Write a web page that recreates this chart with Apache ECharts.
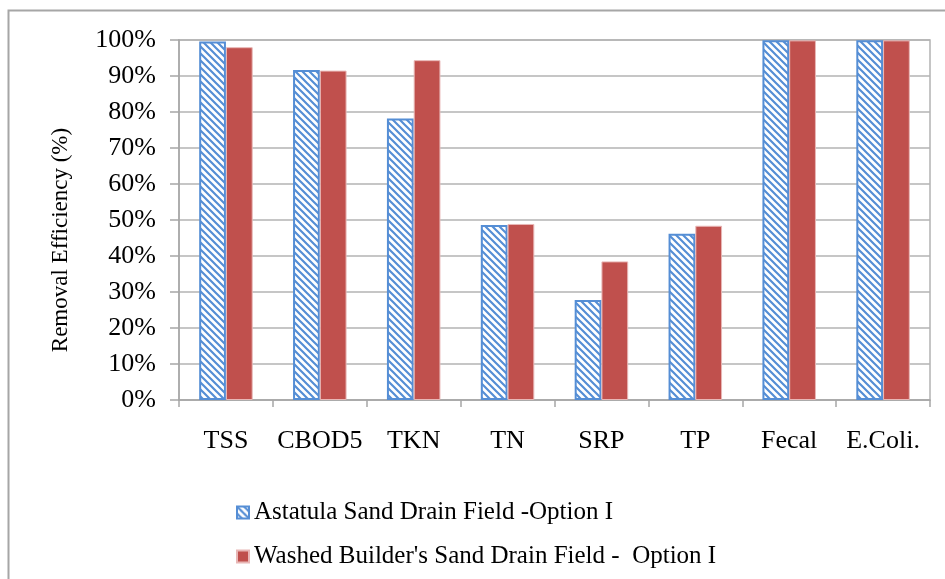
<!DOCTYPE html>
<html>
<head>
<meta charset="utf-8">
<script src="https://cdn.jsdelivr.net/npm/echarts@6/dist/echarts.min.js"></script>
<style>
  html, body { margin: 0; padding: 0; background: #fff; }
  #chart { width: 945px; height: 579px; }
</style>
</head>
<body>
<div id="chart"></div>
<script>
const categories = ['TSS', 'CBOD5', 'TKN', 'TN', 'SRP', 'TP', 'Fecal', 'E.Coli.'];
const astatula = [99.6, 91.7, 78.2, 48.6, 27.8, 46.2, 99.9, 99.9];
const washed = [98.0, 91.5, 94.4, 48.9, 38.5, 48.4, 99.9, 99.9];
const seriesNames = ['Astatula Sand Drain Field -Option I', "Washed Builder's Sand Drain Field -  Option I"];
const yTitle = 'Removal Efficiency (%)';

const FONT = '"Liberation Serif", "Times New Roman", serif';

// hatch pattern: blue diagonal stripes "\\\" on white
const pc = document.createElement('canvas');
pc.width = 7; pc.height = 7;
const g = pc.getContext('2d');
g.fillStyle = '#ffffff';
g.fillRect(0, 0, 7, 7);
g.strokeStyle = '#558ED5';
g.lineWidth = 2.2;
g.beginPath();
g.moveTo(-1, -1); g.lineTo(8, 8);
g.moveTo(-8, -1); g.lineTo(1, 8);
g.moveTo(6, -1); g.lineTo(15, 8);
g.stroke();

const chart = echarts.init(document.getElementById('chart'), null, { renderer: 'canvas' });
chart.setOption({
  backgroundColor: '#ffffff',
  animation: false,
  grid: {
    left: 179, right: 15, top: 40, bottom: 179,
    show: true, borderColor: '#b3b3b3', borderWidth: 1.5
  },
  legend: {
    orient: 'vertical',
    left: 231, top: 495,
    itemWidth: 12, itemHeight: 12,
    itemGap: 19,
    icon: 'rect',
    textStyle: { fontFamily: FONT, fontSize: 25, color: '#000', lineHeight: 25, padding: [0, 0, 0, 0] },
    data: seriesNames
  },
  graphic: [
    {
      type: 'rect', silent: true,
      shape: { x: 8.5, y: 10.5, width: 1200, height: 1200 },
      style: { fill: 'none', stroke: '#a6a6a6', lineWidth: 2 }
    },
    {
      type: 'text', silent: true,
      x: 61, y: 240, rotation: Math.PI / 2,
      style: {
        text: yTitle, fill: '#000',
        font: '23px ' + FONT,
        textAlign: 'center', textVerticalAlign: 'middle'
      }
    }
  ],
  xAxis: {
    type: 'category',
    data: categories,
    axisLine: { lineStyle: { color: '#a6a6a6', width: 1.5 } },
    axisTick: { show: true, length: 7, lineStyle: { color: '#a6a6a6', width: 1.5 } },
    axisLabel: { interval: 0, fontFamily: FONT, fontSize: 26, color: '#000', margin: 28 }
  },
  yAxis: {
    type: 'value',
    min: 0, max: 100, interval: 10,
    axisLine: { show: true, lineStyle: { color: '#a6a6a6', width: 1.5 } },
    axisTick: { show: true, length: 9, lineStyle: { color: '#a6a6a6', width: 1.5 } },
    splitLine: { lineStyle: { color: '#b3b3b3', width: 1.5 } },
    axisLabel: { fontFamily: FONT, fontSize: 26, color: '#000', margin: 23, formatter: '{value}%' }
  },
  series: [
    {
      name: seriesNames[0],
      type: 'bar',
      data: astatula,
      barGap: '0%',
      barCategoryGap: '43%',
      itemStyle: {
        color: { image: pc, repeat: 'repeat' },
        borderColor: '#558ED5', borderWidth: 2
      }
    },
    {
      name: seriesNames[1],
      type: 'bar',
      data: washed,
      barGap: '0%',
      barCategoryGap: '43%',
      itemStyle: { color: '#C0504D', borderColor: '#e8b7b6', borderWidth: 1 }
    }
  ]
});
</script>
</body>
</html>
